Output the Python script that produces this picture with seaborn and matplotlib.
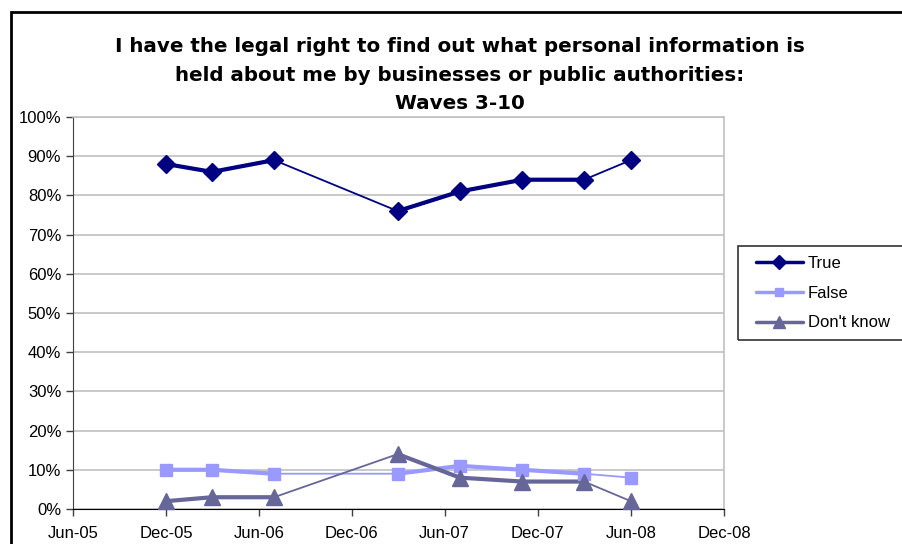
import pandas as pd
import seaborn as sns
import matplotlib.pyplot as plt
import matplotlib.dates as mdates
from matplotlib.lines import Line2D
from matplotlib.patches import Rectangle
from matplotlib.ticker import MultipleLocator, PercentFormatter

# survey waves 3-10
wave_dates = ['2005-12-01', '2006-03-01', '2006-07-01', '2007-03-01',
              '2007-07-01', '2007-11-01', '2008-03-01', '2008-06-01']
true_vals = [88, 86, 89, 76, 81, 84, 84, 89]
false_vals = [10, 10, 9, 9, 11, 10, 9, 8]
dontknow_vals = [2, 3, 3, 14, 8, 7, 7, 2]

series_names = ['True', 'False', "Don't know"]
series_colors = ['#000080', '#9999FF', '#666699']
series_markers = ['D', 's', '^']
marker_sizes = [9.5, 8.5, 12]

# runs of consecutive waves are drawn thick, gaps thin
thick_runs = [(0, 3), (3, 7)]

sns.set_style('white')
plt.rcParams['font.family'] = ['Liberation Sans', 'DejaVu Sans']
plt.rcParams['text.color'] = 'black'

dates = pd.to_datetime(wave_dates)
fig = plt.figure(figsize=(9.02, 5.44), dpi=100)
ax = fig.add_axes([73 / 902, 35 / 544, 651 / 902, 392 / 544])

all_vals = [true_vals, false_vals, dontknow_vals]
handles = []
for name, vals, col, mk, ms in zip(series_names, all_vals, series_colors,
                                   series_markers, marker_sizes):
    df = pd.DataFrame({'date': dates, 'value': vals})
    sns.lineplot(data=df, x='date', y='value', color=col, lw=1.3, ax=ax,
                 zorder=3)
    for a, b in thick_runs:
        sns.lineplot(data=df.iloc[a:b], x='date', y='value', color=col,
                     lw=3, ax=ax, zorder=3)
    ax.plot(df['date'], df['value'], ls='none', marker=mk, ms=ms,
            color=col, zorder=4, clip_on=False)
    handles.append(Line2D([], [], color=col, lw=2.5, marker=mk,
                          ms=ms * 0.7, label=name))

ax.set_xlim(pd.Timestamp('2005-06-01'), pd.Timestamp('2008-12-01'))
ax.set_ylim(0, 100)
ax.xaxis.set_major_locator(mdates.MonthLocator(bymonth=[6, 12]))
ax.xaxis.set_major_formatter(mdates.DateFormatter('%b-%y'))
ax.yaxis.set_major_locator(MultipleLocator(10))
ax.yaxis.set_major_formatter(PercentFormatter(decimals=0))
ax.grid(axis='y', color='#C0C0C0', lw=1.2)
ax.set_xlabel('')
ax.set_ylabel('')

for side in ['top', 'right']:
    ax.spines[side].set_color('#C0C0C0')
    ax.spines[side].set_linewidth(1.2)
ax.spines['left'].set_color('#404040')
ax.spines['bottom'].set_color('#000000')
ax.tick_params(axis='both', direction='out', length=5, width=1,
               color='#404040', labelsize=12, left=True, bottom=True,
               labelcolor='black')
ax.tick_params(axis='x', pad=7)

fig.text(460 / 902, 1 - 75 / 544,
         'I have the legal right to find out what personal information is\n'
         'held about me by businesses or public authorities:\nWaves 3-10',
         ha='center', va='center', fontsize=14.3, fontweight='bold',
         family='DejaVu Sans', linespacing=1.62, color='black')

leg = fig.legend(handles=handles, loc='upper left',
                 bbox_to_anchor=(741 / 902, 1 - 241 / 544), frameon=False,
                 fontsize=12, handlelength=2.8, handletextpad=0.3,
                 labelspacing=0.88, labelcolor='black')

# legend box and outer chart border
fig.add_artist(Rectangle((738 / 902, 1 - 340 / 544), 170 / 902, 94 / 544,
                         transform=fig.transFigure, fill=False,
                         edgecolor='#333333', lw=1.2))
fig.add_artist(Rectangle((11 / 902, -0.1), 1.2, 1.1 - 12 / 544,
                         transform=fig.transFigure, fill=False,
                         edgecolor='black', lw=2))

fig.savefig('out.png', dpi=100)
